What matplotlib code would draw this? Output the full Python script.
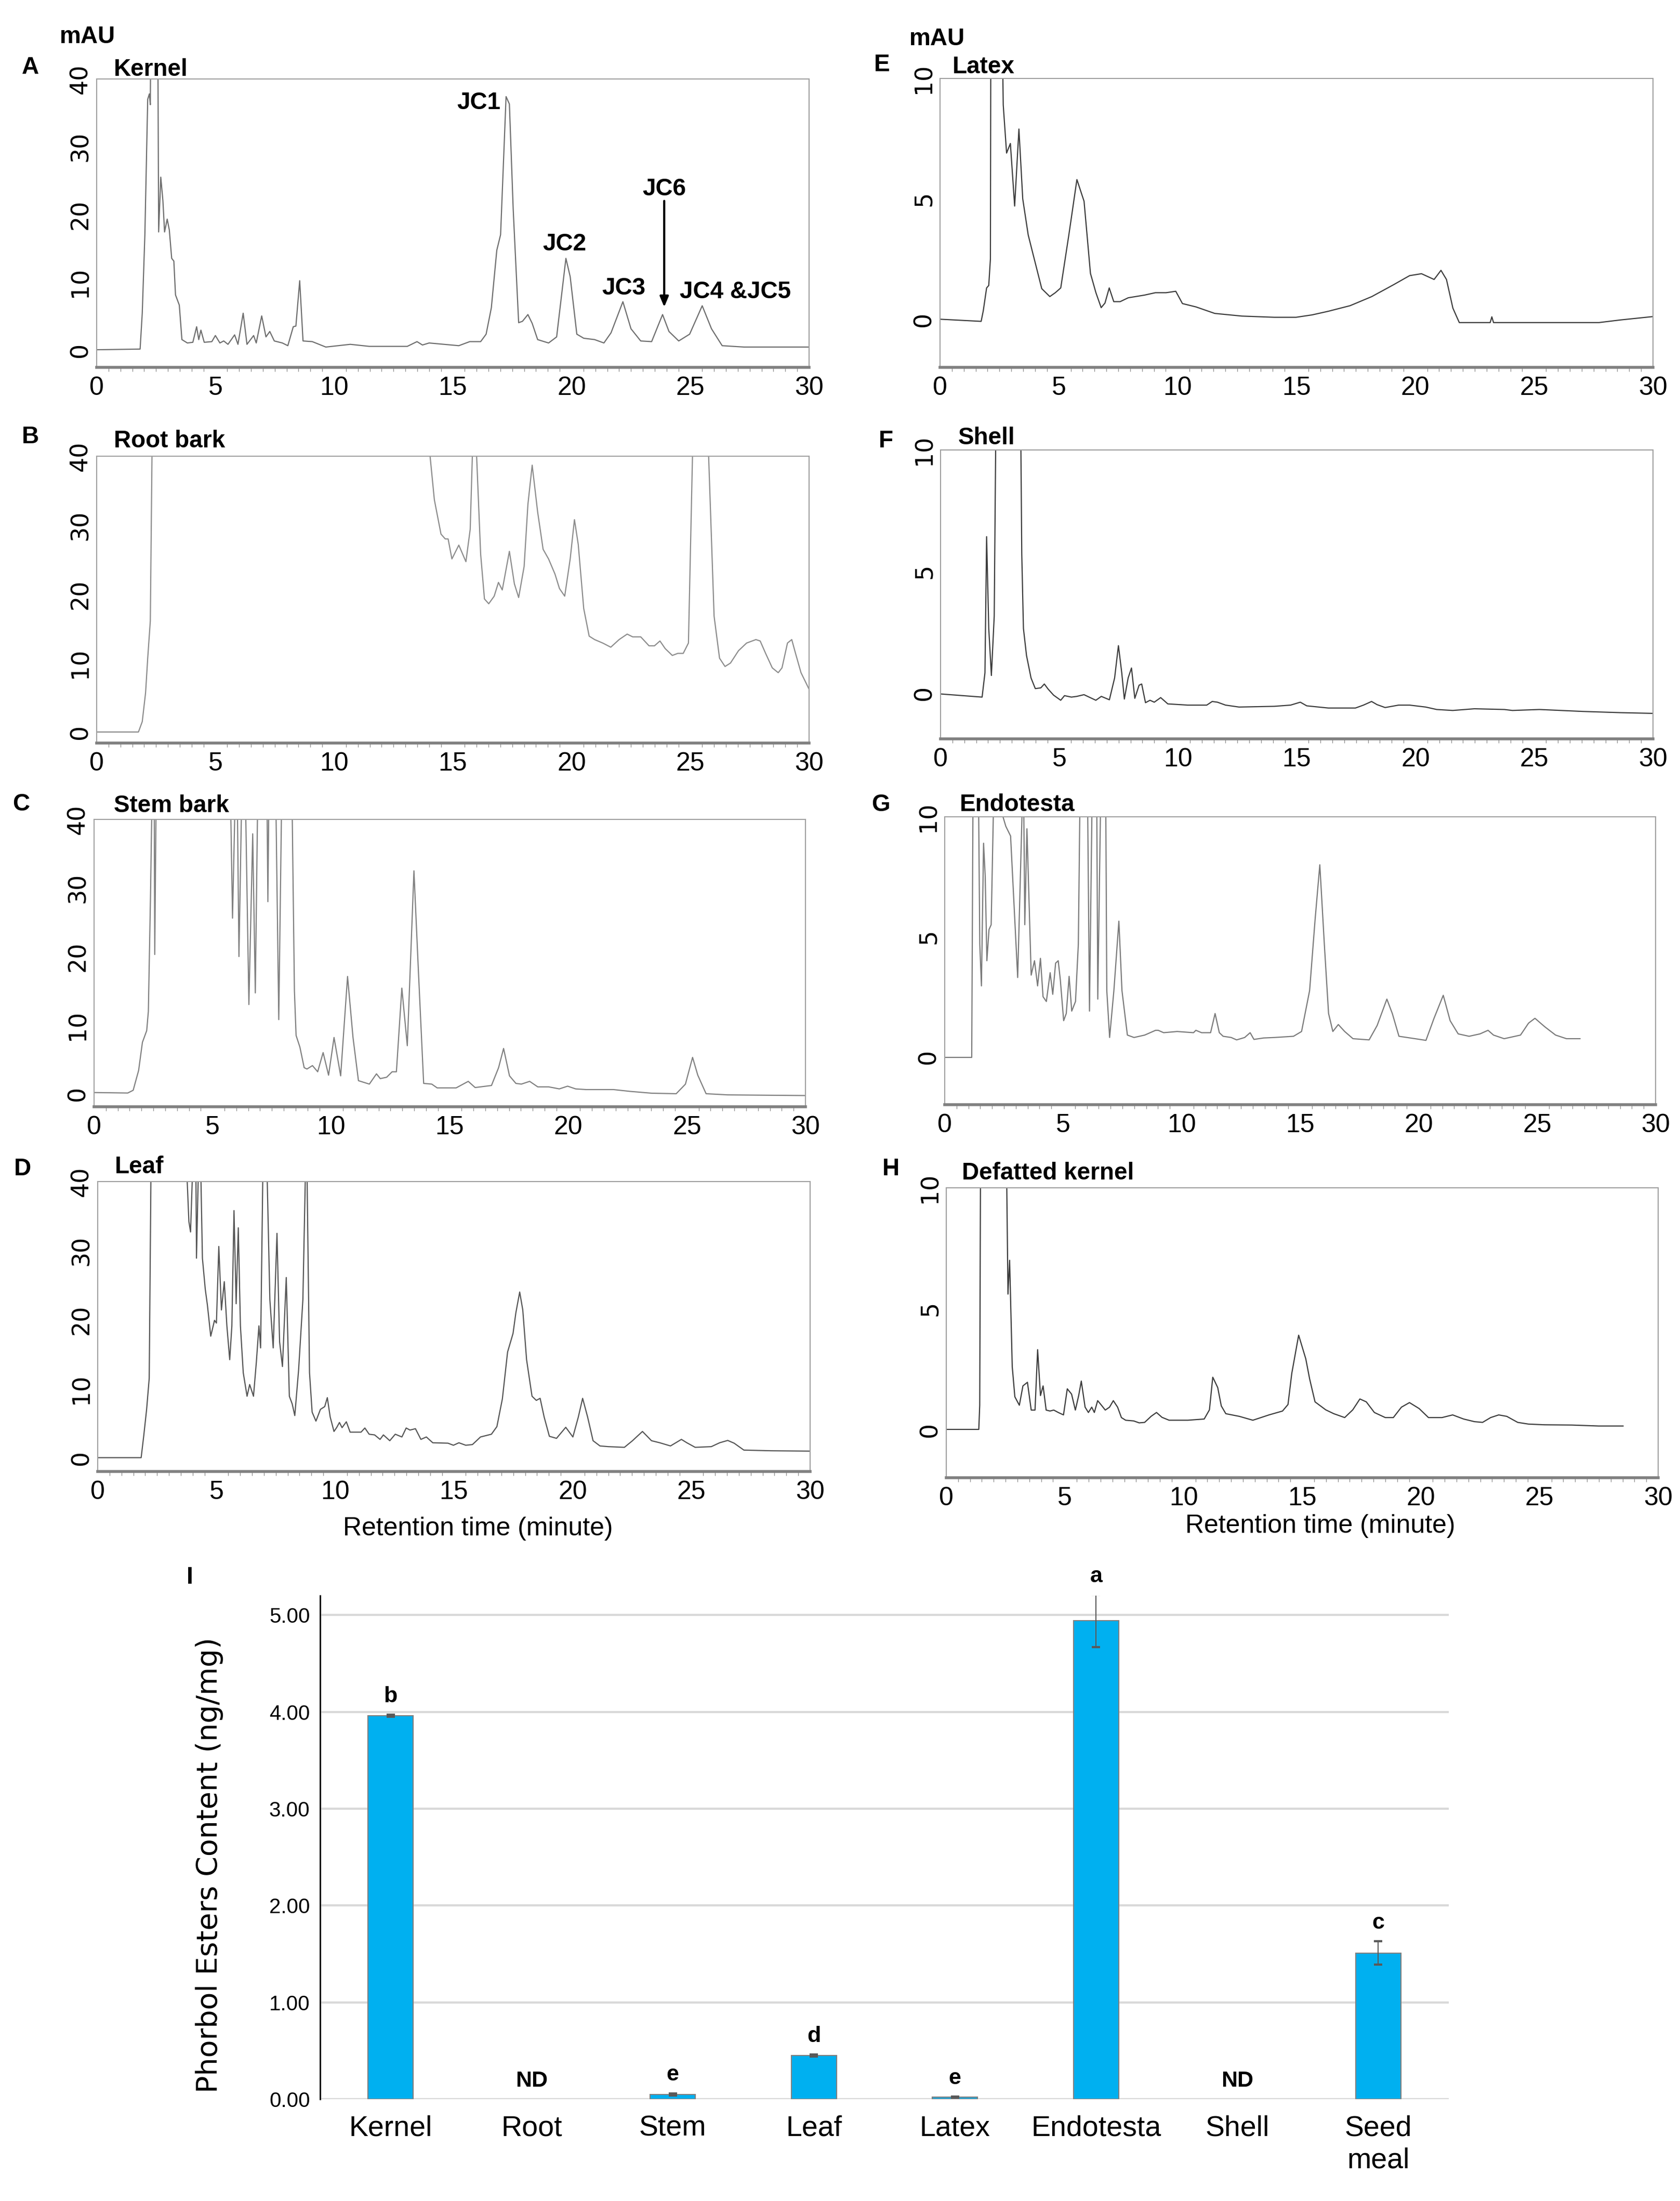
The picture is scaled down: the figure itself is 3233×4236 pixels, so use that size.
import matplotlib
matplotlib.use("Agg")
import matplotlib.pyplot as plt
import numpy as np
from matplotlib import font_manager
from matplotlib.ticker import MultipleLocator

# figure size in pixels (dpi 100)
W, H = 3233, 4236

# --- chromatogram traces: (retention time min, absorbance mAU)
# values above the axis top are off-scale peaks (clipped by the axes)
kernel = [(0, 0), (1.83, 0.1), (1.92, 5.4), (2.03, 17.0), (2.15, 37.0), (2.22, 37.8), (2.26, 36.2),
          (2.30, 60), (2.56, 60), (2.61, 17.4), (2.70, 25.5), (2.79, 22.0), (2.86, 17.4), (2.97, 19.3),
          (3.06, 17.7), (3.16, 13.5), (3.25, 13.1), (3.32, 8.1), (3.48, 6.6), (3.59, 1.5), (3.82, 1.0),
          (4.05, 1.1), (4.21, 3.4), (4.30, 1.5), (4.39, 2.9), (4.53, 1.1), (4.85, 1.2), (5.00, 2.1),
          (5.19, 1.0), (5.35, 1.3), (5.53, 0.8), (5.81, 2.2), (5.95, 0.8), (6.17, 5.4), (6.33, 0.8),
          (6.61, 2.1), (6.72, 1.0), (6.95, 5.0), (7.13, 1.9), (7.29, 2.7), (7.48, 1.3), (7.82, 1.0),
          (8.05, 0.6), (8.28, 3.4), (8.39, 3.5), (8.55, 10.2), (8.69, 1.3), (9.08, 1.2), (9.65, 0.4),
          (10.68, 0.8), (11.48, 0.5), (13.08, 0.5), (13.49, 1.2), (13.72, 0.7), (14.00, 1.0), (15.25, 0.6),
          (15.71, 1.2), (16.17, 1.2), (16.40, 2.3), (16.62, 6.2), (16.85, 14.7), (17.01, 17.0), (17.24, 37.4),
          (17.38, 36.3), (17.54, 20.8), (17.77, 4.0), (17.93, 4.2), (18.16, 5.2), (18.34, 3.9), (18.57, 1.5),
          (19.03, 1.0), (19.37, 1.9), (19.76, 13.5), (19.94, 10.8), (20.22, 2.3), (20.51, 1.7), (20.97, 1.5),
          (21.36, 1.0), (21.66, 2.5), (22.16, 7.1), (22.50, 3.1), (22.91, 1.3), (23.37, 1.2), (23.83, 5.2),
          (24.10, 2.7), (24.51, 1.3), (24.97, 2.3), (25.50, 6.5), (25.89, 3.1), (26.34, 0.6), (27.26, 0.4),
          (30.0, 0.4)]

root_bark = [(0, 0), (1.76, 0), (1.92, 1.5), (2.06, 5.7), (2.15, 10.7), (2.26, 16.1), (2.33, 40), (2.36, 60),
             (13.98, 60), (14.04, 40), (14.22, 33.7), (14.5, 28.7), (14.68, 28.0), (14.8, 28.0), (14.96, 25.1),
             (15.25, 27.1), (15.55, 24.7), (15.73, 29.4), (15.82, 40), (15.9, 60), (16.0, 40), (16.17, 25.8),
             (16.33, 19.3), (16.51, 18.6), (16.74, 19.7), (16.92, 21.7), (17.08, 20.6), (17.38, 26.2),
             (17.59, 21.5), (17.77, 19.5), (18.0, 24.0), (18.16, 33.0), (18.34, 38.7), (18.57, 31.9),
             (18.8, 26.5), (19.03, 25.1), (19.3, 22.9), (19.49, 20.8), (19.71, 19.7), (19.94, 25.1),
             (20.12, 30.8), (20.28, 27.2), (20.51, 17.9), (20.74, 13.9), (20.97, 13.4), (21.31, 12.9),
             (21.65, 12.3), (22.0, 13.4), (22.34, 14.2), (22.57, 13.8), (22.91, 13.8), (23.26, 12.5),
             (23.49, 12.5), (23.72, 13.2), (23.94, 12.1), (24.24, 11.1), (24.47, 11.4), (24.7, 11.4),
             (24.92, 12.9), (25.09, 40), (25.15, 60), (25.66, 60), (25.77, 40), (26.0, 16.8), (26.23, 10.7),
             (26.46, 9.5), (26.69, 10.0), (27.03, 11.8), (27.37, 12.9), (27.76, 13.4), (27.94, 13.2),
             (28.17, 11.4), (28.45, 9.3), (28.7, 8.6), (28.86, 9.3), (29.09, 12.9), (29.27, 13.4),
             (29.43, 11.4), (29.66, 8.6), (30, 6.2)]

stem_bark = [(0, 0.17), (1.42, 0.1), (1.65, 0.5), (1.88, 3.4), (2.04, 7.5), (2.22, 9.2), (2.29, 12.0),
             (2.38, 28.7), (2.43, 40), (2.47, 60), (2.52, 60), (2.56, 20.3), (2.61, 40), (2.65, 60), (5.72, 60),
             (5.77, 40), (5.84, 25.6), (5.93, 40), (6.0, 60), (6.05, 40), (6.11, 20.0), (6.21, 40), (6.3, 60),
             (6.4, 40), (6.53, 13.0), (6.69, 37.9), (6.8, 14.7), (6.89, 40), (6.95, 60), (7.25, 60),
             (7.33, 28.0), (7.42, 60), (7.6, 60), (7.79, 10.8), (7.9, 40), (7.95, 60), (8.3, 60), (8.36, 40),
             (8.45, 15.0), (8.52, 8.5), (8.68, 6.8), (8.86, 3.8), (8.98, 3.6), (9.21, 4.1), (9.43, 3.2),
             (9.66, 6.0), (9.89, 2.7), (10.12, 8.2), (10.4, 2.6), (10.69, 17.1), (10.92, 8.2), (11.15, 1.9),
             (11.61, 1.4), (11.91, 2.9), (12.07, 2.2), (12.34, 2.4), (12.57, 3.2), (12.75, 3.2), (12.98, 15.4),
             (13.21, 7.0), (13.49, 32.5), (13.67, 18.5), (13.9, 1.5), (14.24, 1.4), (14.47, 0.85),
             (15.27, 0.85), (15.78, 1.8), (16.07, 0.9), (16.76, 1.2), (17.06, 3.8), (17.27, 6.6), (17.52, 2.6),
             (17.79, 1.5), (18.02, 1.4), (18.37, 1.8), (18.71, 1.0), (19.17, 1.0), (19.4, 0.85), (19.62, 0.7),
             (19.97, 1.1), (20.31, 0.7), (20.77, 0.6), (21.91, 0.6), (22.6, 0.34), (23.52, 0.07), (24.55, 0),
             (24.94, 1.4), (25.24, 5.3), (25.46, 2.7), (25.81, 0), (26.72, -0.17), (30, -0.27)]

leaf = [(0, 0), (1.83, 0), (1.94, 3.2), (2.06, 7.0), (2.17, 11.5), (2.24, 40), (2.28, 60), (3.72, 60),
        (3.77, 40), (3.84, 34.2), (3.91, 32.7), (3.98, 40), (4.05, 60), (4.1, 60), (4.16, 28.9), (4.23, 40),
        (4.3, 60), (4.35, 40), (4.41, 28.9), (4.53, 24.4), (4.62, 22.1), (4.76, 17.6), (4.92, 19.9),
        (5.0, 19.5), (5.1, 30.6), (5.21, 21.4), (5.33, 25.5), (5.44, 19.1), (5.56, 14.2), (5.65, 19.1),
        (5.74, 35.8), (5.83, 22.3), (5.92, 33.3), (6.01, 19.1), (6.13, 12.3), (6.29, 8.9), (6.4, 10.6),
        (6.56, 8.9), (6.68, 13.8), (6.79, 19.1), (6.86, 15.9), (6.95, 40), (7.0, 60), (7.1, 60), (7.14, 40),
        (7.25, 22.9), (7.39, 15.9), (7.55, 32.5), (7.66, 16.8), (7.78, 13.2), (7.94, 26.1), (8.07, 8.9),
        (8.19, 7.8), (8.3, 6.1), (8.46, 12.7), (8.64, 22.9), (8.74, 40), (8.78, 60), (8.82, 40), (8.92, 12.3),
        (9.03, 6.6), (9.19, 5.3), (9.38, 7.0), (9.56, 7.4), (9.67, 8.7), (9.79, 5.9), (9.95, 3.8),
        (10.06, 4.35), (10.18, 5.1), (10.29, 4.35), (10.47, 5.2), (10.63, 3.7), (11.09, 3.7), (11.25, 4.3),
        (11.43, 3.4), (11.66, 3.3), (11.89, 2.65), (12.03, 3.3), (12.3, 2.46), (12.53, 3.4), (12.81, 3.0),
        (12.99, 4.3), (13.15, 4.0), (13.38, 4.2), (13.61, 2.65), (13.84, 3.0), (14.11, 2.16), (14.75, 2.1),
        (14.98, 1.8), (15.21, 2.16), (15.5, 1.8), (15.78, 1.9), (16.12, 3.0), (16.58, 3.4), (16.81, 4.5),
        (17.04, 8.5), (17.26, 15.3), (17.49, 18.0), (17.61, 21.0), (17.77, 24.0), (17.9, 21.4),
        (18.06, 14.2), (18.29, 8.9), (18.47, 8.3), (18.63, 8.6), (18.8, 5.9), (19.02, 3.1), (19.32, 2.8),
        (19.71, 4.4), (20.01, 3.0), (20.24, 5.9), (20.42, 8.6), (20.63, 5.9), (20.86, 2.46), (21.15, 1.7),
        (21.5, 1.6), (22.18, 1.5), (22.52, 2.46), (22.94, 3.8), (23.32, 2.46), (23.67, 2.16), (24.12, 1.7),
        (24.58, 2.65), (24.81, 2.16), (25.16, 1.5), (25.84, 1.6), (26.19, 2.16), (26.53, 2.5), (26.8, 2.1),
        (27.21, 1.1), (28.36, 1.0), (30, 0.95)]

latex = [(0, 0), (1.73, -0.09), (1.82, 0.35), (1.96, 1.3), (2.05, 1.4), (2.12, 2.5), (2.14, 14), (2.59, 14),
         (2.66, 8.9), (2.80, 6.9), (2.96, 7.3), (3.14, 4.7), (3.32, 7.9), (3.48, 5.0), (3.71, 3.5),
         (4.28, 1.27), (4.62, 0.94), (4.85, 1.1), (5.08, 1.3), (5.42, 3.5), (5.76, 5.8), (6.06, 4.9),
         (6.33, 1.9), (6.56, 1.1), (6.78, 0.48), (6.94, 0.67), (7.12, 1.3), (7.31, 0.73), (7.58, 0.73),
         (7.92, 0.89), (8.6, 1.0), (9.06, 1.1), (9.51, 1.1), (9.92, 1.16), (10.2, 0.65), (10.77, 0.51),
         (11.56, 0.24), (12.7, 0.13), (14.07, 0.08), (14.98, 0.08), (15.66, 0.18), (16.34, 0.33),
         (17.25, 0.56), (18.17, 0.94), (19.08, 1.43), (19.76, 1.81), (20.26, 1.89), (20.79, 1.65),
         (21.08, 2.03), (21.31, 1.65), (21.58, 0.46), (21.85, -0.14), (23.15, -0.14), (23.22, 0.1),
         (23.29, -0.14), (27.73, -0.14), (28.64, -0.03), (30, 0.11)]

shell = [(0, -0.05), (1.75, -0.18), (1.87, 0.82), (1.94, 6.43), (2.03, 2.65), (2.14, 0.71), (2.26, 3.16),
         (2.32, 10), (2.35, 14), (3.35, 14), (3.42, 5.7), (3.49, 2.65), (3.62, 1.53), (3.81, 0.61),
         (3.99, 0.17), (4.22, 0.2), (4.37, 0.36), (4.53, 0.15), (4.76, -0.1), (5.06, -0.31), (5.22, -0.12),
         (5.51, -0.18), (5.74, -0.15), (6.04, -0.08), (6.54, -0.31), (6.77, -0.15), (7.11, -0.29),
         (7.33, 0.61), (7.49, 1.94), (7.63, 0.82), (7.74, -0.26), (7.9, 0.61), (8.04, 1.02), (8.18, -0.23),
         (8.36, 0.31), (8.47, 0.36), (8.63, -0.41), (8.82, -0.31), (9.0, -0.39), (9.27, -0.2), (9.57, -0.46),
         (10.41, -0.51), (11.21, -0.51), (11.44, -0.36), (11.66, -0.39), (12.0, -0.51), (12.57, -0.59),
         (14.05, -0.56), (14.74, -0.51), (15.15, -0.39), (15.42, -0.54), (16.33, -0.63), (17.47, -0.63),
         (17.81, -0.51), (18.15, -0.36), (18.38, -0.49), (18.72, -0.61), (19.29, -0.51), (19.75, -0.51),
         (20.43, -0.59), (20.89, -0.69), (21.57, -0.73), (22.48, -0.66), (23.74, -0.69), (24.08, -0.73),
         (25.22, -0.69), (26.13, -0.73), (27.04, -0.77), (28.63, -0.82), (30, -0.85)]

endotesta = [(0, -0.03), (1.14, -0.03), (1.19, 10), (1.21, 14), (1.4, 14), (1.48, 4.7), (1.55, 2.95),
             (1.64, 8.9), (1.71, 7.5), (1.78, 4.0), (1.87, 5.3), (1.96, 5.5), (2.05, 10), (2.1, 14), (2.4, 14),
             (2.46, 10), (2.58, 9.6), (2.78, 9.2), (3.08, 3.3), (3.26, 10), (3.3, 14), (3.34, 10), (3.38, 5.5),
             (3.47, 9.5), (3.65, 3.4), (3.79, 4.0), (3.92, 2.95), (4.04, 4.1), (4.15, 2.5), (4.29, 2.3),
             (4.45, 3.5), (4.56, 2.6), (4.68, 3.9), (4.79, 4.0), (4.88, 3.2), (5.02, 1.5), (5.13, 1.8),
             (5.25, 3.35), (5.36, 1.9), (5.52, 2.3), (5.64, 4.7), (5.7, 10), (5.75, 14), (6.0, 14), (6.11, 1.9),
             (6.21, 10), (6.25, 14), (6.4, 14), (6.46, 2.4), (6.57, 10), (6.62, 14), (6.75, 14), (6.8, 10),
             (6.84, 2.76), (6.96, 0.8), (7.14, 2.76), (7.35, 5.65), (7.48, 2.76), (7.71, 0.9), (7.99, 0.8),
             (8.44, 0.9), (8.9, 1.1), (9.01, 1.1), (9.24, 1.0), (9.81, 1.05), (10.5, 1.0), (10.6, 1.1),
             (10.84, 1.0), (11.22, 1.0), (11.41, 1.8), (11.59, 1.0), (11.75, 0.85), (12.09, 0.8), (12.32, 0.7),
             (12.66, 0.8), (12.89, 1.0), (13.05, 0.72), (13.46, 0.78), (13.92, 0.8), (14.72, 0.85),
             (15.06, 1.05), (15.4, 2.76), (15.63, 5.7), (15.83, 8.0), (16.02, 4.7), (16.2, 1.8), (16.38, 1.05),
             (16.61, 1.34), (16.88, 1.05), (17.23, 0.75), (17.91, 0.7), (18.25, 1.3), (18.66, 2.4),
             (18.89, 1.8), (19.17, 0.85), (19.85, 0.75), (20.31, 0.68), (20.65, 1.6), (21.04, 2.56),
             (21.33, 1.5), (21.67, 0.95), (22.13, 0.85), (22.59, 0.95), (22.93, 1.1), (23.16, 0.9),
             (23.61, 0.75), (24.3, 0.9), (24.64, 1.4), (24.91, 1.6), (25.32, 1.25), (25.78, 0.9),
             (26.24, 0.75), (26.81, 0.75)]

defatted_kernel = [(0, 0), (1.37, 0), (1.41, 1.0), (1.44, 10), (1.46, 14), (2.52, 14), (2.55, 10), (2.6, 5.6),
                   (2.67, 7.0), (2.78, 2.6), (2.89, 1.35), (3.08, 1.0), (3.23, 1.8), (3.42, 1.95), (3.58, 0.8),
                   (3.74, 0.8), (3.85, 3.3), (3.97, 1.4), (4.08, 1.8), (4.21, 0.8), (4.37, 0.76), (4.53, 0.8),
                   (4.72, 0.7), (4.94, 0.6), (5.1, 1.68), (5.28, 1.46), (5.44, 0.8), (5.58, 1.4), (5.69, 2.0),
                   (5.85, 0.92), (5.99, 0.7), (6.13, 0.92), (6.24, 0.7), (6.38, 1.19), (6.54, 1.0), (6.7, 0.8),
                   (6.88, 0.92), (7.04, 1.19), (7.22, 0.92), (7.38, 0.49), (7.56, 0.38), (7.9, 0.35),
                   (8.13, 0.27), (8.36, 0.29), (8.63, 0.54), (8.86, 0.7), (9.09, 0.5), (9.39, 0.38),
                   (10.18, 0.38), (10.87, 0.43), (11.09, 0.81), (11.23, 2.16), (11.44, 1.73), (11.59, 0.97),
                   (11.78, 0.65), (12.35, 0.54), (12.92, 0.38), (13.6, 0.6), (14.17, 0.76), (14.4, 1.03),
                   (14.56, 2.32), (14.85, 3.9), (15.15, 2.92), (15.31, 2.1), (15.54, 1.14), (15.99, 0.81),
                   (16.33, 0.65), (16.79, 0.49), (17.13, 0.81), (17.43, 1.26), (17.7, 1.14), (18.04, 0.7),
                   (18.5, 0.49), (18.84, 0.49), (19.18, 0.92), (19.52, 1.11), (19.93, 0.86), (20.32, 0.49),
                   (20.89, 0.49), (21.34, 0.6), (21.8, 0.43), (22.26, 0.32), (22.6, 0.29), (22.94, 0.49),
                   (23.28, 0.6), (23.62, 0.54), (24.08, 0.29), (24.53, 0.22), (25.22, 0.19), (26.36, 0.18),
                   (27.49, 0.14), (28.52, 0.14)]

# peak labels in panel A (label, time, mAU)
jc_labels = ["JC1", "JC2", "JC3", "JC6", "JC4 &JC5"]
jc_time = [16.1, 19.7, 22.2, 23.9, 26.9]
jc_mau = [36.5, 15.6, 9.1, 23.7, 8.5]

# --- bar chart data (panel I)
tissues = ["Kernel", "Root", "Stem", "Leaf", "Latex", "Endotesta", "Shell", "Seed\nmeal"]
pe_content = [3.96, np.nan, 0.05, 0.45, 0.02, 4.94, np.nan, 1.51]
pe_err = [0.01, 0.0, 0.01, 0.01, 0.005, 0.27, 0.0, 0.12]
sig_letters = ["b", "ND", "e", "d", "e", "a", "ND", "c"]

# --- fonts
_names = {f.name for f in font_manager.fontManager.ttflist}
HAS_NARROW = "Liberation Sans Narrow" in _names
NARROW = "Liberation Sans Narrow" if HAS_NARROW else "Liberation Sans"
SANS = "Liberation Sans"
XTICK_FS = 40 if HAS_NARROW else 36
plt.rcParams["font.family"] = [SANS, "DejaVu Sans"]

fig = plt.figure(figsize=(W / 100, H / 100), dpi=100)


def px_axes(l, t, r, b):
    return fig.add_axes([l / W, 1 - b / H, (r - l) / W, (b - t) / H])


def ftext(x, y, s, **kw):
    fig.text(x / W, 1 - y / H, s, **kw)


def chrom(box, data, ymin, ymax, yticks, color):
    ax = px_axes(*box)
    t, v = zip(*data)
    ax.plot(t, v, color=color, lw=1.6)
    ax.set_xlim(0, 30)
    ax.set_ylim(ymin, ymax)
    ax.set_xticks(np.arange(0, 31, 5))
    ax.set_yticks(yticks)
    ax.xaxis.set_minor_locator(MultipleLocator(0.5))
    for s in ax.spines.values():
        s.set_color("#a0a0a0")
        s.set_linewidth(1.5)
    ax.spines["bottom"].set_color("#808080")
    ax.spines["bottom"].set_linewidth(4)
    ax.tick_params(axis="x", which="major", length=0, pad=12)
    ax.tick_params(axis="x", which="minor", length=6, width=1, color="#909090")
    ax.tick_params(axis="y", length=0, pad=6)
    for lab in ax.get_xticklabels():
        lab.set_fontfamily(NARROW)
        lab.set_fontsize(XTICK_FS)
    for lab in ax.get_yticklabels():
        lab.set_fontfamily("DejaVu Sans")
        lab.set_fontsize(33)
        lab.set_rotation(90)
        lab.set_va("center")
    return ax


axA = chrom((186, 152, 1557, 707), kernel, -2.6, 40, [0, 10, 20, 30, 40], "#6e6e6e")
axB = chrom((186, 878, 1557, 1430), root_bark, -1.6, 40, [0, 10, 20, 30, 40], "#8c8c8c")
axC = chrom((181, 1577, 1550, 2130), stem_bark, -1.9, 40, [0, 10, 20, 30, 40], "#808080")
axD = chrom((188, 2274, 1559, 2832), leaf, -2.0, 40, [0, 10, 20, 30, 40], "#555555")
axE = chrom((1809, 151, 3181, 707), latex, -2.0, 10, [0, 5, 10], "#3c3c3c")
axF = chrom((1810, 866, 3181, 1422), shell, -1.9, 10, [0, 5, 10], "#3c3c3c")
axG = chrom((1818, 1572, 3186, 2126), endotesta, -2.0, 10, [0, 5, 10], "#7a7a7a")
axH = chrom((1821, 2286, 3191, 2844), defatted_kernel, -2.0, 10, [0, 5, 10], "#3c3c3c")

# peak labels and JC6 arrow
for lab, tx, ty in zip(jc_labels, jc_time, jc_mau):
    axA.text(tx, ty, lab, ha="center", va="center", fontsize=33, fontweight="bold")
axA.annotate("", xy=(23.9, 6.1), xytext=(23.9, 22.2),
             arrowprops=dict(arrowstyle="-|>,head_width=0.5,head_length=1.2", color="black", lw=3))

# panel letters, sample names, units
bold = dict(fontsize=33, fontweight="bold")
for letter, lx, ly in [("A", 42, 130), ("B", 42, 841), ("C", 24, 1548), ("D", 27, 2250),
                       ("E", 1682, 125), ("F", 1691, 849), ("G", 1677, 1549), ("H", 1698, 2250)]:
    ftext(lx, ly, letter, ha="left", va="center", **bold)
for name, nx, ny in [("Kernel", 219, 146), ("Root bark", 219, 861), ("Stem bark", 219, 1563),
                     ("Leaf", 221, 2258), ("Latex", 1833, 141), ("Shell", 1844, 855),
                     ("Endotesta", 1847, 1561), ("Defatted kernel", 1851, 2270)]:
    ftext(nx, ny, name, ha="left", va="baseline", **bold)
ftext(115, 71, "mAU", ha="left", va="center", **bold)
ftext(1750, 75, "mAU", ha="left", va="center", **bold)
ftext(920, 2942, "Retention time (minute)", ha="center", va="center",
      fontfamily=NARROW, fontsize=XTICK_FS)
ftext(2541, 2937, "Retention time (minute)", ha="center", va="center",
      fontfamily=NARROW, fontsize=XTICK_FS)

# --- panel I: bar chart
axI = px_axes(616, 3071, 2788, 4040)
xpos = np.arange(len(tissues))
axI.bar(xpos, pe_content, width=0.32, color="#00b0f0", edgecolor="#7f7f7f", linewidth=1.5, zorder=3)
has_err = [e > 0 for e in pe_err]
axI.errorbar(xpos[has_err], np.array(pe_content)[has_err], yerr=np.array(pe_err)[has_err], fmt="none",
             ecolor="#595959", elinewidth=1.5, capsize=6, capthick=3, zorder=4)
for xi, val, err, let in zip(xpos, pe_content, pe_err, sig_letters):
    top = 0.0 if np.isnan(val) else val + err
    axI.text(xi, top + 0.19, let, ha="center", va="center", fontsize=34 if HAS_NARROW else 31,
             fontweight="bold", fontfamily=NARROW)
axI.set_xlim(-0.5, 7.5)
axI.set_ylim(0, 5.2)
axI.set_yticks(np.arange(0, 6, 1))
axI.set_yticklabels([f"{v:.2f}" for v in np.arange(0, 6, 1)])
axI.set_xticks(xpos)
axI.set_xticklabels(tissues, linespacing=1.25)
axI.yaxis.grid(True, color="#d9d9d9", lw=3)
axI.set_axisbelow(True)
for s in ["top", "right", "bottom"]:
    axI.spines[s].set_visible(False)
axI.spines["left"].set_color("black")
axI.spines["left"].set_linewidth(2)
axI.tick_params(axis="y", length=0, pad=14)
axI.tick_params(axis="x", length=0, pad=22)
for lab in axI.get_yticklabels():
    lab.set_fontfamily(NARROW)
    lab.set_fontsize(31 if HAS_NARROW else 29)
for lab in axI.get_xticklabels():
    lab.set_fontfamily(NARROW)
    lab.set_fontsize(45 if HAS_NARROW else 40)
    lab.set_va("top")
ftext(403, 3590, "Phorbol Esters Content (ng/mg)", rotation=90, ha="center", va="center",
      fontfamily="DejaVu Sans", fontsize=40)
ftext(365, 3036, "I", ha="center", va="center", **bold)

fig.savefig("out.png", dpi=100)
